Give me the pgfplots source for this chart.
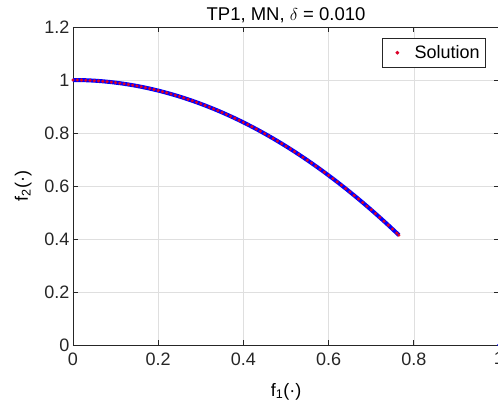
\documentclass[border=0pt]{standalone}
\usepackage{pgfplots}
\pgfplotsset{compat=1.18}
\usepackage{pgfplotstable}
\usepackage{fontspec}
\setmainfont{Liberation Sans}
\definecolor{axgray}{RGB}{38,38,38}
\definecolor{gridgray}{RGB}{223,223,223}
\definecolor{mblue}{RGB}{0,0,255}
\definecolor{mred}{RGB}{220,0,40}
\pgfplotstableread{
f1 f2
0.00 1.0000
0.01 0.9999
0.02 0.9996
0.03 0.9991
0.04 0.9984
0.05 0.9975
0.06 0.9964
0.07 0.9951
0.08 0.9936
0.09 0.9919
0.10 0.9900
0.11 0.9879
0.12 0.9856
0.13 0.9831
0.14 0.9804
0.15 0.9775
0.16 0.9744
0.17 0.9711
0.18 0.9676
0.19 0.9639
0.20 0.9600
0.21 0.9559
0.22 0.9516
0.23 0.9471
0.24 0.9424
0.25 0.9375
0.26 0.9324
0.27 0.9271
0.28 0.9216
0.29 0.9159
0.30 0.9100
0.31 0.9039
0.32 0.8976
0.33 0.8911
0.34 0.8844
0.35 0.8775
0.36 0.8704
0.37 0.8631
0.38 0.8556
0.39 0.8479
0.40 0.8400
0.41 0.8319
0.42 0.8236
0.43 0.8151
0.44 0.8064
0.45 0.7975
0.46 0.7884
0.47 0.7791
0.48 0.7696
0.49 0.7599
0.50 0.7500
0.51 0.7399
0.52 0.7296
0.53 0.7191
0.54 0.7084
0.55 0.6975
0.56 0.6864
0.57 0.6751
0.58 0.6636
0.59 0.6519
0.60 0.6400
0.61 0.6279
0.62 0.6156
0.63 0.6031
0.64 0.5904
0.65 0.5775
0.66 0.5644
0.67 0.5511
0.68 0.5376
0.69 0.5239
0.70 0.5100
0.71 0.4959
0.72 0.4816
0.73 0.4671
0.74 0.4524
0.75 0.4375
0.76 0.4224
0.765 0.4148
}\solution
\begin{document}
\begin{tikzpicture}[x=1pt,y=1pt]
\begin{axis}[
  at={(0,0)}, anchor=origin,
  scale only axis, width=426pt, height=318pt,
  xmin=0, xmax=1, ymin=0, ymax=1.2,
  xtick={0,0.2,0.4,0.6,0.8,1}, ytick={0,0.2,0.4,0.6,0.8,1,1.2},
  /pgf/number format/assume math mode=true,
  /pgf/number format/fixed,
  font=\fontsize{18}{21}\selectfont,
  tick label style={font=\fontsize{18}{21}\selectfont, text=axgray},
  xticklabel style={yshift=-4pt},
  grid=major, major grid style={gridgray, line width=0.6pt},
  axis line style={axgray, line width=0.7pt},
  major tick style={axgray, line width=0.7pt},
  tick align=inside, major tick length=5pt,
  xtick pos=both, ytick pos=both,
  title={TP1, MN, $\delta$ = 0.010},
  title style={yshift=-5pt, font=\fontsize{18.5}{21}\selectfont},
  xlabel={f\textsubscript{1}(·)}, ylabel={f\textsubscript{2}(·)},
  xlabel style={yshift=-11pt, font=\fontsize{18}{21}\selectfont},
  ylabel style={yshift=6pt, font=\fontsize{18}{21}\selectfont},
  legend style={at={(0.9695,0.965)}, anchor=north east, draw=axgray, line width=0.6pt,
    font=\fontsize{18}{21}\selectfont, inner xsep=2pt, inner ysep=5pt,
    nodes={inner xsep=4pt}},
  legend cell align=left,
]
\addplot[mblue, line width=4pt, forget plot] table[x=f1,y=f2]{\solution};
\addplot[only marks, mark=*, mark size=1.4pt, color=mred,
  legend image code/.code={\path (0pt,0pt) (26pt,0pt); \fill[mred] (13pt,0pt) circle[radius=1.6pt];}]
  table[x=f1,y=f2]{\solution};
\addlegendentry{Solution}
\addplot[only marks, mark=*, mark size=1.6pt, color=mblue, forget plot] coordinates {(1,0)};
\end{axis}
\pgfresetboundingbox
\path (-73,-62) rectangle (425,345);
\end{tikzpicture}
\end{document}
